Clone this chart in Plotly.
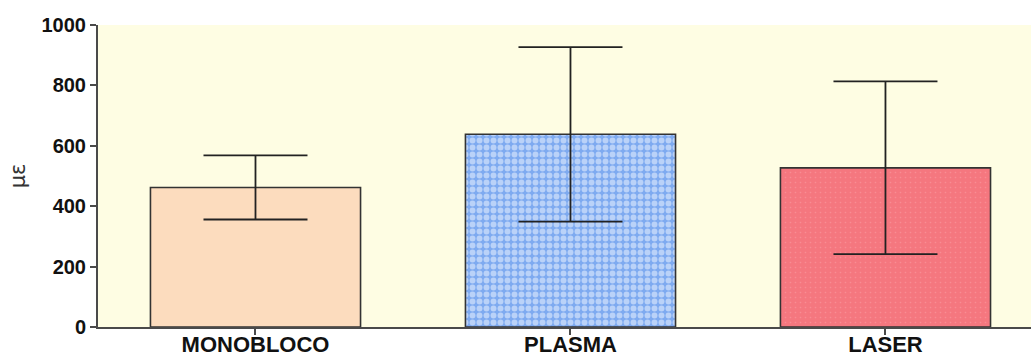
import plotly.graph_objects as go

# Group means and standard deviations (microstrain)
categories = ["MONOBLOCO", "PLASMA", "LASER"]
means = [462, 638, 527]
sds = [106, 289, 286]

y_ticks = [0, 200, 400, 600, 800, 1000]

fill_colors = ["#fcdcbe", "#7eaaf0", "#f5777f"]
patterns = [
    dict(shape=""),
    dict(shape=".", fgcolor="#f6f9ff", size=7, solidity=0.55, fillmode="overlay"),
    dict(shape=".", fgcolor="#f9a3a9", size=5, solidity=0.08, fillmode="overlay"),
]

fig = go.Figure()
for i, cat in enumerate(categories):
    fig.add_trace(go.Bar(
        x=[cat],
        y=[means[i]],
        width=0.667,
        marker=dict(color=fill_colors[i], pattern=patterns[i],
                    line=dict(color="#333333", width=1.6)),
        error_y=dict(type="data", array=[sds[i]], visible=True,
                     color="#222222", thickness=1.8, width=52),
        showlegend=False,
    ))

axis_color = "#4a4a4a"
tick_font = dict(family="Liberation Sans, Arial, sans-serif", color="#111111", weight="bold")

fig.update_layout(
    width=1031,
    height=358,
    margin=dict(l=98, r=0, t=25, b=31, autoexpand=False),
    paper_bgcolor="white",
    plot_bgcolor="#fefde3",
    bargap=0.333,
    xaxis=dict(
        categoryorder="array",
        categoryarray=categories,
        range=[-0.5, 2.462],
        showline=True, linecolor=axis_color, linewidth=2,
        ticks="outside", ticklen=6, tickwidth=2, tickcolor=axis_color,
        tickfont=dict(size=22, **tick_font),
        ticklabelstandoff=-9,
        showgrid=False, zeroline=False,
        automargin=False,
    ),
    yaxis=dict(
        range=[0, 1000],
        tickvals=y_ticks,
        showline=True, linecolor=axis_color, linewidth=2,
        ticks="outside", ticklen=6, tickwidth=2, tickcolor=axis_color,
        tickfont=dict(size=20, **tick_font),
        showgrid=False, zeroline=False,
        title=dict(text="με", font=dict(family="DejaVu Sans, sans-serif", size=21, color="#333333"), standoff=10),
        automargin=False,
    ),
)

fig.write_html("out.html")
